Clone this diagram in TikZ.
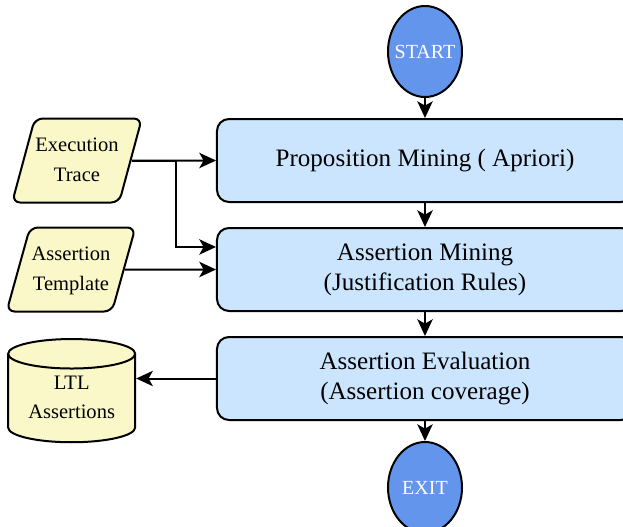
\documentclass[tikz,border=0pt]{standalone}
\usepackage{fontspec}
\setmainfont{Liberation Serif}
\usetikzlibrary{arrows.meta,positioning,shapes.geometric}
\definecolor{boxblue}{HTML}{CCE5FF}
\definecolor{termblue}{HTML}{6495ED}
\definecolor{dataylw}{HTML}{FAF8C8}

\begin{document}
\begin{tikzpicture}[
    auto,
    on grid,
    node distance=81.75pt,
    >={Stealth[length=12.5pt,width=11.5pt,inset=3.2pt]},
    font=\fontsize{18.8}{22.5}\selectfont,
    block/.style={
		rectangle,
		rounded corners=9pt,
		draw=black,
		line width=1.5pt,
		text centered,
		minimum width=312pt,
		minimum height=62.25pt,
		fill=boxblue
	},
    term/.style={
		ellipse,
		draw=black,
		line width=1.5pt,
		inner xsep=-4pt,
		minimum width=55.5pt,
		minimum height=68.25pt,
		fill=termblue,
		text=white,
		font=\fontsize{15}{18}\selectfont
	},
    data/.style={
		trapezium,
		trapezium left angle=72,
		trapezium right angle=108,
		trapezium stretches=true,
		rounded corners=6pt,
		draw=black,
		line width=1.5pt,
		inner xsep=0pt,
		minimum width=97.5pt,
		minimum height=63pt,
		fill=dataylw,
		font=\fontsize{15.4}{22.5}\selectfont
	},
    store/.style={
		cylinder,
		shape border rotate=90,
		aspect=0.34,
		draw=black,
		line width=1.5pt,
		inner sep=0pt,
		minimum width=95.25pt,
		minimum height=69.75pt,
		fill=dataylw,
		font=\fontsize{15.4}{21.75}\selectfont
	},
    link/.style={
		->,
		line width=1.5pt
	}
  ]
  \useasboundingbox (-318.75pt,-274.125pt) rectangle (148.5pt,120.375pt);

    % the main chain of steps
  \node [block] (block1) {Proposition Mining ( Apriori)};

  \node [block, below=of block1] (block2)
 {%
 \begin{tabular}{c}
  Assertion Mining\\
  (Justification Rules)
 \end{tabular}
 };

  \node [block, below=of block2] (block3)
 {%
 \begin{tabular}{c}
  Assertion Evaluation\\
  (Assertion coverage)
 \end{tabular}
 };

  \node [term, above=of block1] (start) {START};
  \node [term, below=of block3] (exit) {EXIT};

    % inputs and output on the left
  \node [data, left=261pt of block1] (trace)
 {%
 \begin{tabular}{@{}c@{}}
  Execution\\
  Trace
 \end{tabular}
 };

  \node [data, left=265.5pt of block2] (templ)
 {%
 \begin{tabular}{@{}c@{}}
  Assertion\\
  Template
 \end{tabular}
 };

  \node [store, left=265pt of block3, yshift=-15pt] (ltl)
 {%
 \begin{tabular}{@{}c@{}}
  LTL\\
  Assertions
 \end{tabular}
 };

 \draw [link] (start) -- (block1);
 \draw [link] (block1) -- (block2);
 \draw [link] (block2) -- (block3);
 \draw [link] (block3) -- (exit);
 \draw [link] (trace) -- (block1);
 \draw [link] (trace.east) -- ++(33pt,0) |- ([yshift=16.9pt]block2.west);
 \draw [link] (templ) -- (block2);
 \draw [link] (block3) -- (block3.west -| ltl.east);

\end{tikzpicture}
\end{document}
